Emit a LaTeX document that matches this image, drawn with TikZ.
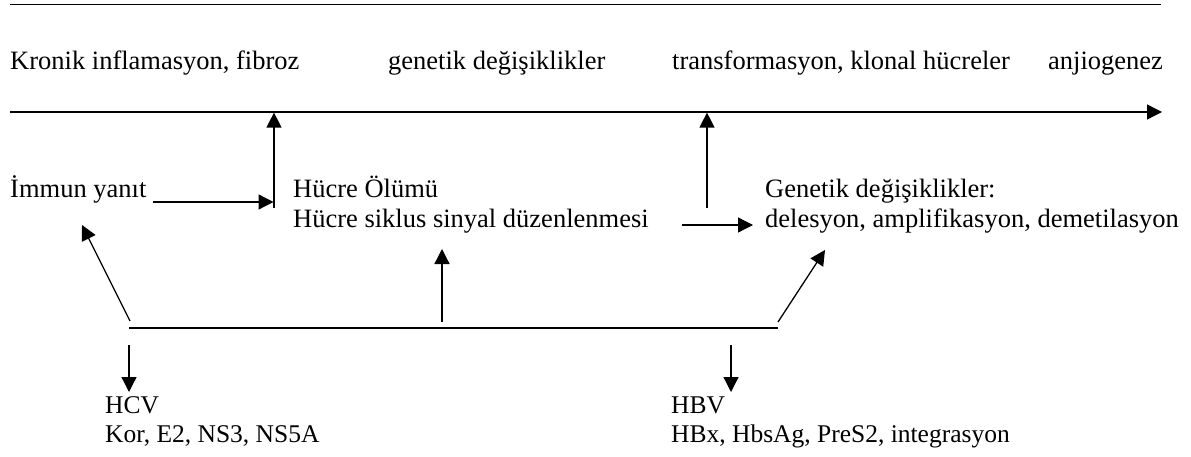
\documentclass[tikz,border=0pt]{standalone}
\usepackage{fontspec}
\setmainfont{Liberation Serif}
\usetikzlibrary{arrows.meta}
\begin{document}
\begin{tikzpicture}[x=1pt,y=-1pt,
  txt/.style={anchor=base west, inner sep=0pt, font=\fontsize{26.5}{30}\selectfont},
  btxt/.style={anchor=base west, inner sep=0pt, font=\fontsize{25.5}{29}\selectfont},
  arr/.style={-{Triangle[length=15pt,width=15pt]}, line width=1.3pt},
  ln/.style={line width=1.3pt}]
\useasboundingbox (0,0) rectangle (1191,457);
% top rule
\coordinate (r1) at (10,5); \coordinate (r2) at (1161,5);
\draw[line width=1pt] (r1) -- (r2);
% top labels
\node[txt] (t1) at (10,70) {Kronik inflamasyon, fibroz};
\node[txt] (t2) at (388,70) {genetik değişiklikler};
\node[txt] (t3) at (672,70) {transformasyon, klonal hücreler};
\node[txt] (t4) at (1048,70) {anjiogenez};
% timeline
\coordinate (ts) at (10,112); \coordinate (te) at (1162,112);
\draw[arr] (ts) -- (te);
% middle row
\node[txt] (imm) at (10,198) {İmmun yanıt};
\node[txt] (h1) at (293,198) {Hücre Ölümü};
\node[txt] (h2) at (293,228) {Hücre siklus sinyal düzenlenmesi};
\node[txt] (g1) at (765,198) {Genetik değişiklikler:};
\node[txt] (g2) at (765,228) {delesyon, amplifikasyon, demetilasyon};
\coordinate (a1s) at (153,202); \coordinate (a1e) at (273.5,202);
\draw[arr] (a1s) -- (a1e);
\coordinate (v1b) at (274,208); \coordinate (v1t) at (274,112.6);
\draw[arr] (v1b) -- (v1t);
\coordinate (v2b) at (707,208); \coordinate (v2t) at (707,112.6);
\draw[arr] (v2b) -- (v2t);
\coordinate (a2s) at (682,225); \coordinate (a2e) at (753,225);
\draw[arr] (a2s) -- (a2e);
% bottom bar
\coordinate (b1) at (129,328); \coordinate (b2) at (778,328);
\draw[ln] (b1) -- (b2);
\coordinate (u1b) at (442,322); \coordinate (u1t) at (442,249);
\draw[arr] (u1b) -- (u1t);
\coordinate (dl1) at (130,321); \coordinate (dl2) at (82,225);
\draw[arr] (dl1) -- (dl2);
\coordinate (dr1) at (778,322); \coordinate (dr2) at (825,250);
\draw[arr] (dr1) -- (dr2);
% down arrows
\coordinate (d1t) at (129,345); \coordinate (d1b) at (129,392);
\draw[arr] (d1t) -- (d1b);
\coordinate (d2t) at (731,345); \coordinate (d2b) at (731,392);
\draw[arr] (d2t) -- (d2b);
% bottom labels
\node[btxt] (hcv) at (105,413) {HCV};
\node[btxt] (hcv2) at (105,442) {Kor, E2, NS3, NS5A};
\node[btxt] (hbv) at (671,413) {HBV};
\node[btxt] (hbv2) at (671,442) {HBx, HbsAg, PreS2, integrasyon};
\end{tikzpicture}
\end{document}
